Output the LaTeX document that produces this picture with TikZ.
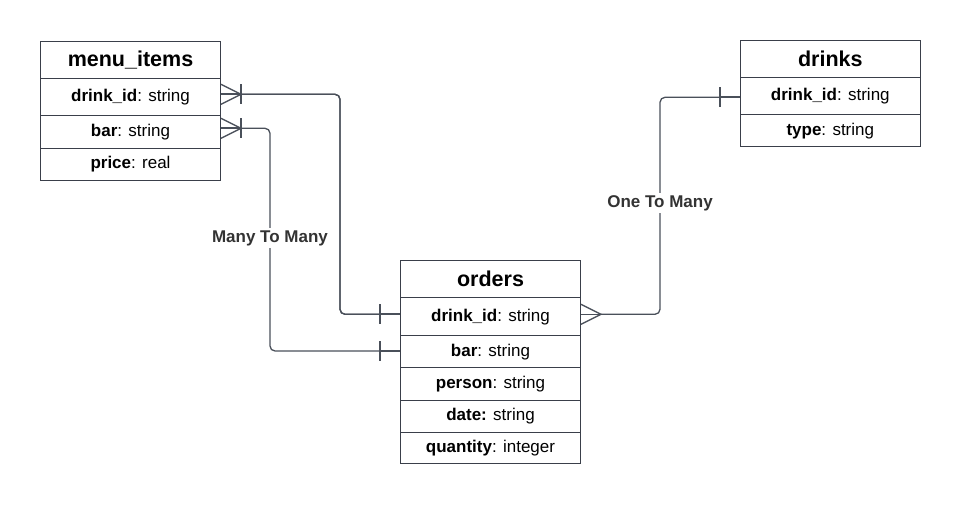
\documentclass[tikz,border=0pt]{standalone}
\usepackage{fontspec}
\setmainfont{Liberation Sans}
\usetikzlibrary{calc}
\definecolor{tblc}{HTML}{3A3F4A}
\definecolor{lnc}{HTML}{4A505A}
\definecolor{lblc}{HTML}{333333}
\tikzset{
  row/.style={draw=tblc, line width=1pt, fill=white, minimum width=180pt, inner sep=0pt, font=\fontsize{17}{20}\selectfont},
  ttl/.style={row, font=\bfseries\fontsize{21.5}{24}\selectfont},
  conn/.style={draw=lnc, line width=1.3pt, rounded corners=5pt},
  crow/.style={draw=lnc, line width=1.3pt},
  stub/.style={draw=lnc, line width=2.2pt},
  barmark/.style={draw=lnc, line width=2pt},
  lbl/.style={fill=white, text=lblc, font=\bfseries\fontsize{17}{20}\selectfont, inner sep=2pt}
}
\begin{document}
\begin{tikzpicture}[x=1pt, y=-1pt]
\useasboundingbox (0,0) rectangle (960,505);
% menu_items
\node[ttl, minimum height=37pt] (mt) at (130.5,59.7) {menu\_items};
\node[row, minimum height=37pt] (mi1) at (130.5,96.8) {\textbf{drink\_id}: string};
\node[row, minimum height=33pt] (mi2) at (130.5,131.8) {\textbf{bar}: string};
\node[row, minimum height=32pt] (mi3) at (130.5,164.2) {\textbf{price}: real};
% orders
\node[ttl, minimum height=37pt] (ot) at (490.5,279.2) {orders};
\node[row, minimum height=38pt] (o1) at (490.5,316.7) {\textbf{drink\_id}: string};
\node[row, minimum height=32pt] (o2) at (490.5,351.7) {\textbf{bar}: string};
\node[row, minimum height=32.3pt] (o3) at (490.5,383.9) {\textbf{person}: string};
\node[row, minimum height=32.3pt] (o4) at (490.5,416.2) {\textbf{date:} string};
\node[row, minimum height=31pt] (o5) at (490.5,447.8) {\textbf{quantity}: integer};
% drinks
\node[ttl, minimum height=37pt] (dt) at (830.3,59.2) {drinks};
\node[row, minimum height=37.3pt] (d1) at (830.3,96.4) {\textbf{drink\_id}: string};
\node[row, minimum height=31.7pt] (d2) at (830.3,130.8) {\textbf{type}: string};
% connection points
\coordinate (a1) at ($(mi1.east)+(0,-2.5)$);
\coordinate (b1) at ($(o1.west)+(0,-2.4)$);
\coordinate (a2) at ($(mi2.east)+(0,-3.5)$);
\coordinate (b2) at ($(o2.west)+(0,-0.7)$);
\coordinate (a3) at ($(o1.east)+(0,-2.4)$);
\coordinate (b3) at ($(d1.west)+(0,0.9)$);
\coordinate (v1) at (340,0);
\coordinate (v2) at (270,0);
\coordinate (v3) at (660,0);
% connector 1: menu_items.drink_id -- orders.drink_id
\draw[conn] ($(a1)+(20,0)$) -| (v1 |- b1) -- ($(b1)+(-20,0)$);
\path[conn] ($(a1)+(20,0)$) -- (a1 -| v1) -- (v1 |- b1) -- ($(b1)+(-20,0)$);
% connector 2: menu_items.bar -- orders.bar
\draw[conn] ($(a2)+(20,0)$) -- (a2 -| v2) -- (v2 |- b2) -- ($(b2)+(-20,0)$);
% connector 3: orders.drink_id -- drinks.drink_id
\draw[conn] ($(a3)+(20,0)$) -- (a3 -| v3) -- (v3 |- b3) -- ($(b3)+(-20,0)$);
% label
\node[lbl] (l1) at (270,238) {Many To Many};
\node[lbl] (l2) at (660,203) {One To Many};
% end marks: crow's feet + bars at menu_items
\draw[stub] (a1) -- ($(a1)+(20,0)$);
\draw[crow] ($(a1)+(0,-10)$) -- ($(a1)+(20,0)$) -- ($(a1)+(0,10)$);
\draw[barmark] ($(a1)+(20,-10)$) -- ($(a1)+(20,10)$);
\draw[stub] (a2) -- ($(a2)+(20,0)$);
\draw[crow] ($(a2)+(0,-10)$) -- ($(a2)+(20,0)$) -- ($(a2)+(0,10)$);
\draw[barmark] ($(a2)+(20,-10)$) -- ($(a2)+(20,10)$);
% bars at orders (left)
\draw[stub] (b1) -- ($(b1)+(-20,0)$);
\draw[barmark] ($(b1)+(-20,-10)$) -- ($(b1)+(-20,10)$);
\draw[stub] (b2) -- ($(b2)+(-20,0)$);
\draw[barmark] ($(b2)+(-20,-10)$) -- ($(b2)+(-20,10)$);
% crow's foot at orders (right)
\draw[crow] (a3) -- ($(a3)+(20,0)$);
\draw[crow] ($(a3)+(0,-10)$) -- ($(a3)+(20,0)$) -- ($(a3)+(0,10)$);
% bar at drinks
\draw[stub] (b3) -- ($(b3)+(-20,0)$);
\draw[barmark] ($(b3)+(-20,-10)$) -- ($(b3)+(-20,10)$);
\end{tikzpicture}
\end{document}
